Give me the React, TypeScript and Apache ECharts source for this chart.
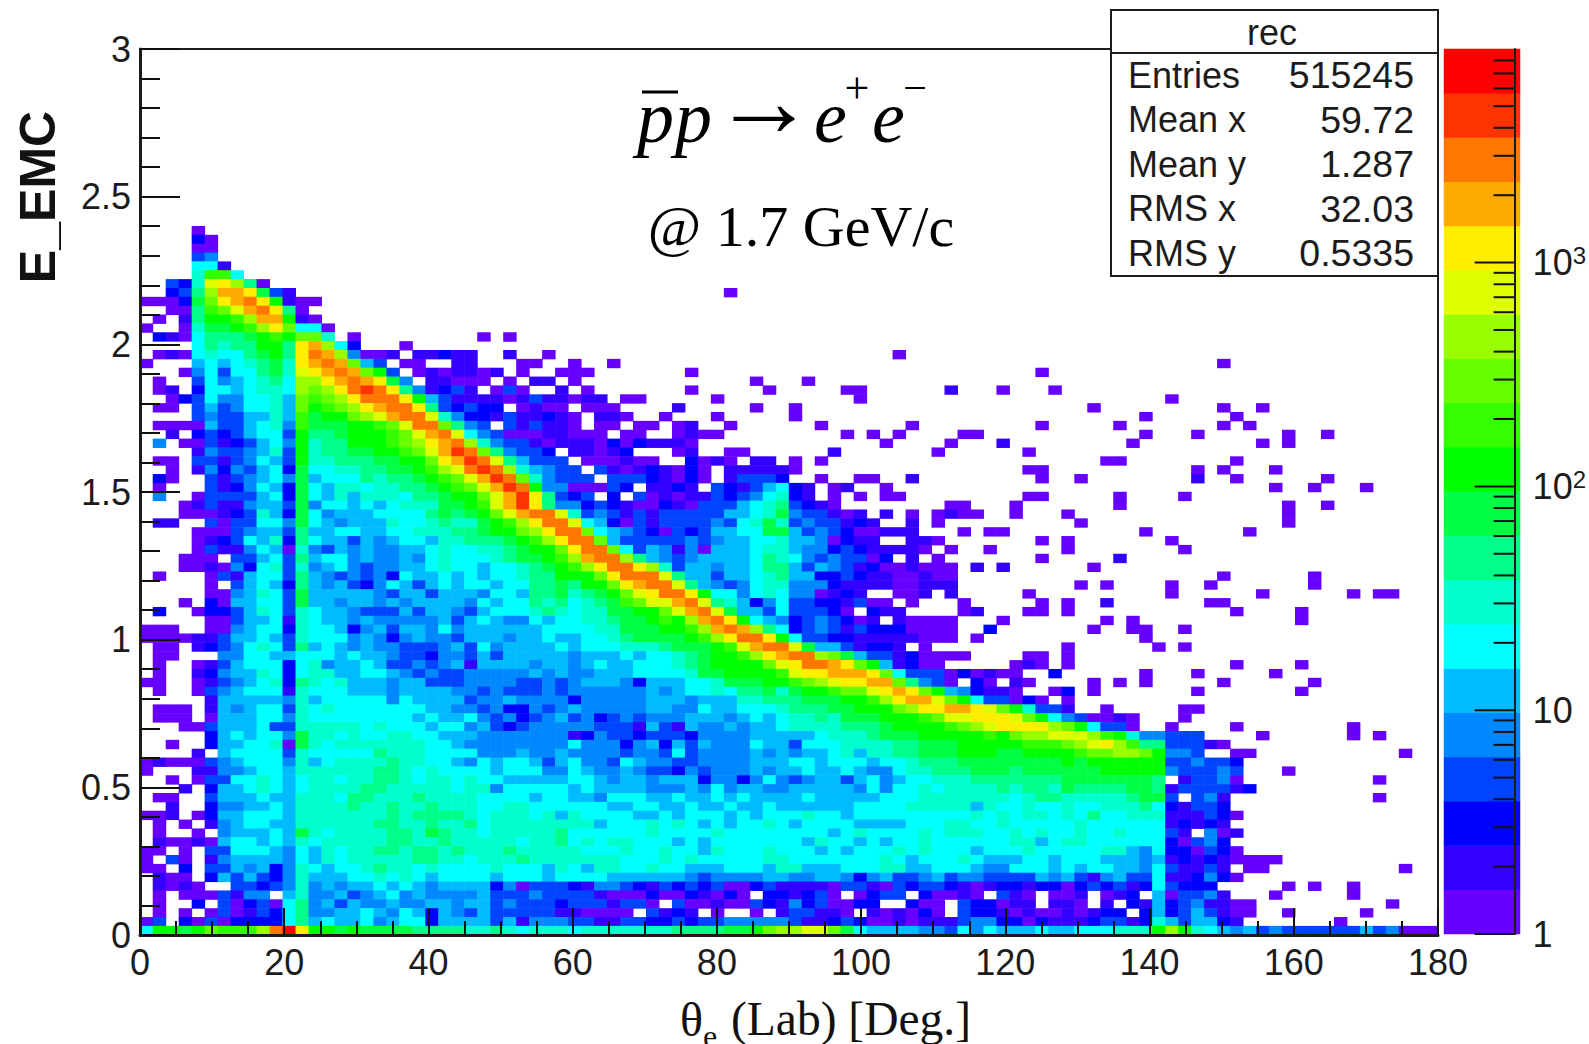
import React, { useEffect, useRef } from "react";
import * as echarts from "echarts";

const LEVEL_CHARS = "0123456789abcdefghij";
const palette = ["#6600ff","#3300ff","#0000ff","#0044ff","#0088ff","#00bbff","#00ffff","#00ffcc","#00ff88","#00ff44","#00ff00","#33ff00","#66ff00","#99ff00","#ddff00","#ffee00","#ffaa00","#ff7700","#ff3300","#ff0000"];
const colorbarTicks = [1,2,3,4,5,6,7,8,9,10,20,30,40,50,60,70,80,90,100,200,300,400,500,600,700,800,900,1000,2000,3000,4000,5000,6000,7000,8000];

// one string per E_EMC bin, top (row 79) to bottom (row 0); one character per theta bin, "." = empty
const rowsFromTop = [
"....0",
"....20",
"....00",
"....34",
"....661",
"....7bb6",
"..327efd80",
"..238dggf9 31",
"00029cfghf a100",
"..008bcegh f80",
".0.18aabdg ga10",
"0..0799abd fc660",
".21068889a bacc7.0... ......0.0.",
"....68788a a8fgd62... 0",
".010676689 a8fhgd4001 .11211..1. .0........ .......... ........0.",
"0...565678 97fghgc53. 00..11...0 0..0..0...",
"...0463668 97efghgca3 .0101101.0 ..000..... ..0.......",
".0..364567 86ddfghgf9 4.11000.0. 11.0...... .......0.. .0........",
".01.266567 76dcdfhihf 841231.030 ..1.0..... ..0.....0. ....00.... ..1...0...",
"..02364466 75cbcdfhhh fa53111101 311011.00. ....0..... .....0....",
".00.353466 75cabcdfgh hf832322.0 100.000... .1.....0.. 0.........",
"....343355 75b9aacdeg hhe7422131 1210.110.. 0...0..... 0.........",
".000053356 74b999aabc ehhc843.31 3110.00.00 .01..0.... ..0......0",
"..1.232356 63a889aaab ceghe64300 011000.00. .0100..... ....0.0.0. ...00.....",
".4.0031235 64a788aaab cdfghd7433 1011102021 110....... .......0.. ..0...1...",
"....143345 73a78899aa bcegihc843 32.11012.. .01..00... ...1...... .0........",
".00.331346 53a7788899 aacfgihe85 333.000100 ..2010.11. 0.0.......",
"..0.142435 6296677889 9abdehihd7 5433.31012 1020.11111 0.........",
".20..31345 6495666878 89abcegihc 74333.3332 1020.13332 ..0..00..1",
".0...31246 5296577677 889abcegih a4400032.1 121.321356 21.01..0..",
".4..033335 6296575777 6889aacegi f8323.2.30 1011323467 21.0.0.00.",
"...0131145 5394665656 77799abegi f844232100 2103335678 3210...... ..00...0..",
"...0001237 5296455566 668989aceg hhe7343131 3333355679 433101.1.0 .0100..0..",
".11..30336 6496545557 6678779abd fhhe652031 3333436797 3433121..1 .0........",
"....000345 5385566556 6777889aac dfhhc65432 0323556699 5343200111 ...0.00...",
"....012365 7286553545 665778889a bdfhhc5333 3343455667 5540211..1 10........",
"....031146 5074354544 5567667789 aacfhhc635 4140555677 5442321111 0.0..0....",
"...000.335 6385664544 5467666789 9abdghhd85 4345555687 64343302.1 .0........",
"...0010426 7374564344 5567665667 89abdfhhfd 7355455688 5354312001 000.1.1...",
".0...03156 6385434342 6556565667 88aaacfhhh e855355678 5522321100 100.......",
".....0.356 5285453246 5356566566 8898aacfgh he85434677 4442111100 111.......",
".....00457 6395555543 5535554665 889789acef hhfa664676 440121..00 1.1.......",
"...0.20556 6395545545 4555546566 8786789bce eghe875246 33221300.0 ...0......",
".2..022357 6376554333 5355435666 78767799aa ceghe95536 33320.211. ...01.....",
".....00355 6176554544 4445356544 656677899a badghfa654 2343201.10 000...0...",
"000..00456 6276652453 5546455555 5666677999 aabdghgd86 2343132220 000..2....",
"0000113556 5376664542 4544355545 5655667899 99abdfhhfa 6332211111 000.0.....",
".00.123467 6385654544 3334536455 5565666777 8999abeghh e95531221. 0.........",
".00...4466 5566656554 3324435355 5554555656 6789aabdfg hhdc953312 0000......",
".0..013566 6267455653 3434515555 4554565566 6789aaaace fhhgfca512 00........",
".0..124557 6267755665 4343344444 5454455566 66799aaaab effgggfc63 330201....",
"00..013456 7287675554 5533344443 3434555425 55667999aa bcdeffggc8 430.20....",
".0..034566 6176665554 5555443433 3434444445 4566768897 9aabccefgf ca542110..",
".....15555 5475666664 6555534454 4442444445 5545557788 8999aabdfg geca633020 .0........",
".000.15456 6376766666 6655443422 4345444445 5446556667 88899aaacd ffggfeca73 31..0..... 00........",
".000.05556 6476666666 6565564342 3453423434 4455545656 7787999aaa bceefffeca 6430010... 0.........",
"...0035556 3377777676 6656645323 4444433315 3154454556 77778889aa aabcdeffff dca6330..0 ....0..... ...0......",
".....25656 6497767667 7665554444 4441243323 3324444555 5567778999 aaaaabacdd eeedba7443 33....0... ...0.0....",
"..0..25566 7097677777 7766544444 4446444245 2535444655 3666777788 999aaaaabb bcdefdb883 3310......",
"....1.5666 6376666687 7766664445 4454444344 3634444545 4556757788 999aaa99aa aabccddca4 43..00.... .......0..",
"0100034566 6475677778 7766546566 5356443654 4334444555 6656665667 8889999999 9a9aaaaaa3 34332.....",
"0...114456 6577777788 7676666566 6446544543 3243444545 5655654467 7888999899 9999aaaaa4 33343...0.",
"..0.033667 6567767788 7677676655 5556654554 5552442464 3455356456 6777888888 899999998. 13340..... .....0....",
"...1.25567 6567777887 7777677466 6665655554 4454645544 5555546466 7677778788 7988889981 333312....",
".00..35556 5577768877 7877776666 5665546665 5655656555 5655555666 7777777678 8777778993 .341...... .....0....",
"..1..24455 6577778778 7787776677 6666665566 5565565565 5555566667 7777576676 6766777862 1332......",
"001.025566 6577777778 7888876777 6757666655 6566656566 6766566666 6666767677 6768667771 11320.....",
".0.0.14566 5577777788 7787786777 7777756667 6765656676 5666655556 6677667666 6676666661 2121......",
".0..0.4555 6597677778 8798776777 7786666667 6666766666 6665676666 7677766767 6676676663 1.401.....",
".100105665 6576777778 8778777776 7786767766 6565666666 6576656566 7666666775 6776666662 0342......",
"00.0.33666 5465767788 7887877787 7777666766 7665766676 6656566676 7666566676 6666775462 20320.....",
"0.30.14555 5465767777 7887767778 7777777666 7676666677 6666666765 6667655566 5666555451 21210000..",
"00.2.33545 2476566787 7676666766 6576577667 6655566657 7555666775 5666544666 5656655463 1131.00... .......0..",
".100.25353 2475556676 7656666566 6566665555 5543444455 4455424533 4534433335 4531453361 12420.....",
".1010..332 3474545565 6545555240 3332144321 3232300231 1110331032 3321012212 2023231263 222.....0. 0..0......",
".0.0003144 .574453456 4544445333 4333310002 0021020.22 1230.0233. 20010.310. 001.012.50 3341...0.. ...0......",
".0..2.3023 0684535445 4455455343 3323331330 .300100321 4230022..2 00.322011. 110.1.2152 341100.... ......0...",
".0.0.03013 2684455654 6525435333 33110000.3 121.0..0.1 33110.1010 20.3221010 010122.252 353100..0. ....0.....",
"03.2030222 2685655645 6625555351 4443311332 2323344444 3112320010 1113442202 1112331275 35521..... ..0.......",
"6aa9acbbbd hjfaa9a999 9888877876 7776777777 7888899acd deec965555 4436465556 55666777ad a765453433 3333534000",
];
const TOP_ROW = 79;

// isolated low-count cells in the upper right: [theta bin, energy bin, level]
const strayCells = [
[45,72,0],[83,64,0],[69,63,0],[66,61,0],[70,61,0],[79,60,0],[73,59,0],[83,59,0],[86,59,0],[84,58,0],[77,58,0],[69,57,0],[75,57,0],[83,57,0],[85,57,0],[77,56,0],[81,56,0],[88,56,0],[88,55,0],[91,56,0],[76,55,0],[86,55,0],[66,55,1],[68,54,0],[74,53,0],[75,53,0],[84,53,0],[68,52,0],[69,52,0],[69,51,0],[72,51,0],[81,52,0],[81,51,1],[83,52,0],[84,51,0],[87,52,0],[91,51,0],[87,50,0],[90,50,0],[94,50,0],[68,49,0],[69,49,0],[75,49,0],[75,48,0],[80,49,0],[67,48,0],[67,47,0],[88,48,0],[88,47,0],[88,46,0],[91,48,0],[71,47,0],[72,46,0],[66,45,0],[77,45,0],[85,45,0],[69,44,0],[71,44,0],[71,43,0],[79,44,0],[80,43,0],[69,42,0],[75,42,1],[66,41,1],[73,41,0],[83,40,0],[90,40,0],[90,39,0],[72,39,0],[74,39,0],[79,39,0],[79,38,0],[82,39,0],[68,38,0],[86,38,0],[93,38,0],[95,38,0],[96,38,0],[74,37,1],[69,37,0],[82,37,0],[83,37,0],[71,37,0],[71,36,0],[68,36,0],[69,36,0],[84,36,0],[89,36,0],[89,35,0],[66,35,0],[74,35,0],[76,35,0],[73,34,0],[76,34,0],[77,34,0],[80,34,0],[77,33,0],[78,32,0],[80,32,0],[71,32,0],[71,31,0],[71,30,0],[68,31,0],[69,31,0],[67,30,0],[68,30,1],[69,30,0],[84,30,0],[89,30,0],[66,29,0],[67,29,0],[70,29,2],[77,29,0],[81,29,0],[87,29,0],[67,28,1],[68,28,0],[73,28,0],[75,28,0],[77,28,0],[83,28,0],[90,28,0],[70,27,0],[71,27,2],[73,27,0],[81,27,0],[89,27,0],
];

const statNames = ["Entries", "Mean x", "Mean y", "RMS x", "RMS y"];
const statValues = ["515245", "59.72", "1.287", "32.03", "0.5335"];

const thetaBins = Array.from({ length: 100 }, (_, i) => String(i));
const energyBins = Array.from({ length: 100 }, (_, i) => String(i));
const levelBins = palette.map((_, i) => String(i));

function buildCells() {
  const cells = new Map<string, number[]>();
  rowsFromTop.forEach((raw, r) => {
    const row = raw.replace(/ /g, "");
    const j = TOP_ROW - r;
    for (let i = 0; i < row.length && i < 100; i++) {
      const lev = LEVEL_CHARS.indexOf(row[i]);
      if (lev >= 0) cells.set(i + "," + j, [i, j, lev]);
    }
  });
  strayCells.forEach(([i, j, lev]) => {
    if (!cells.has(i + "," + j)) cells.set(i + "," + j, [i, j, lev]);
  });
  return Array.from(cells.values());
}

const SANS = "Liberation Sans";
const SERIF = "Liberation Serif";
const INK = "#1c1c1c";

function App() {
  const ref = useRef<HTMLDivElement>(null);
  useEffect(() => {
    const chart = echarts.init(ref.current!, null, { renderer: "svg" });
    const plot = { left: 140, top: 49, width: 1298, height: 886 };
    const bar = { left: 1444, top: 49, width: 76, height: 885 };
    const stats: any[] = [];
    statNames.forEach((n, i) => {
      const y = 75 + i * 44.5;
      stats.push({ type: "text", z: 101, x: 1128, y, style: { text: n, font: `36px "${SANS}"`, fill: INK, textAlign: "left", textVerticalAlign: "middle" } });
      stats.push({ type: "text", z: 101, x: 1414, y, style: { text: statValues[i], font: `37.5px "${SANS}"`, fill: INK, textAlign: "right", textVerticalAlign: "middle" } });
    });
    const serifItalic = `italic 74px "${SERIF}"`;
    chart.setOption({
      animation: false,
      backgroundColor: "#fff",
      grid: [
        { ...plot, show: false },
        { ...plot, show: true, borderColor: INK, borderWidth: 2, backgroundColor: "transparent" },
        { ...bar, show: false },
        { ...bar, show: false },
      ],
      xAxis: [
        { gridIndex: 0, type: "category", data: thetaBins, show: false },
        {
          gridIndex: 1, type: "value", min: 0, max: 180, interval: 20, z: 10,
          axisLine: { show: true, lineStyle: { color: INK, width: 3 } },
          axisTick: { show: true, inside: true, length: 27, lineStyle: { color: "#111", width: 2 } },
          minorTick: { show: true, splitNumber: 4, length: 14, lineStyle: { color: "#111", width: 2 } },
          splitLine: { show: false },
          axisLabel: { fontFamily: SANS, fontSize: 36, color: INK, margin: 9 },
        },
        { gridIndex: 2, type: "category", data: ["z"], show: false },
        { gridIndex: 3, type: "value", min: 0, max: 1, show: false },
      ],
      yAxis: [
        { gridIndex: 0, type: "category", data: energyBins, show: false },
        {
          gridIndex: 1, type: "value", min: 0, max: 3, interval: 0.5, z: 10,
          axisLine: { show: true, lineStyle: { color: INK, width: 3 } },
          axisTick: { show: true, inside: true, length: 40, lineStyle: { color: "#111", width: 2 } },
          minorTick: { show: true, splitNumber: 5, length: 20, lineStyle: { color: "#111", width: 2 } },
          splitLine: { show: false },
          axisLabel: { fontFamily: SANS, fontSize: 36, color: INK, margin: 9 },
        },
        { gridIndex: 2, type: "category", data: levelBins, show: false },
        {
          gridIndex: 3, type: "log", logBase: 10, min: 1, max: 9000, position: "right", z: 10,
          axisLine: { show: true, onZero: false, lineStyle: { color: INK, width: 2 } },
          axisTick: { show: false },
          splitLine: { show: false },
          axisLabel: {
            margin: 18, fontFamily: SANS, fontSize: 36, color: INK,
            formatter: (v: number) => {
              const d = Math.round(Math.log10(v));
              if (Math.abs(Math.log10(v) - d) > 1e-6) return "";
              if (d === 0) return "1";
              if (d === 1) return "10";
              return `10{s|${d}}`;
            },
            rich: { s: { fontFamily: SANS, fontSize: 24, color: INK, verticalAlign: "bottom", padding: [0, 0, 14, 0] } },
          },
        },
      ],
      visualMap: {
        show: false, type: "piecewise", dimension: 2, seriesIndex: [0, 1],
        pieces: palette.map((color, i) => ({ value: i, color })),
      },
      series: [
        { type: "heatmap", xAxisIndex: 0, yAxisIndex: 0, data: buildCells(), progressive: 0, silent: true, emphasis: { disabled: true }, itemStyle: { borderWidth: 0 } },
        { type: "heatmap", xAxisIndex: 2, yAxisIndex: 2, data: levelBins.map((_, i) => [0, i, i]), progressive: 0, silent: true, emphasis: { disabled: true } },
        {
          type: "custom", xAxisIndex: 3, yAxisIndex: 3, z: 10, silent: true,
          data: colorbarTicks.map((v) => [1, v]),
          renderItem: (_p: any, api: any) => {
            const v = api.value(1);
            const pt = api.coord([1, v]);
            const major = Math.abs(Math.log10(v) - Math.round(Math.log10(v))) < 1e-6;
            return { type: "line", shape: { x1: pt[0] - (major ? 40 : 21), y1: pt[1], x2: pt[0], y2: pt[1] }, style: { stroke: "#111", lineWidth: 2 } };
          },
        },
      ],
      graphic: [
        { type: "rect", z: 100, shape: { x: 1111, y: 10, width: 327, height: 266 }, style: { fill: "#fff", stroke: INK, lineWidth: 2 } },
        { type: "line", z: 101, shape: { x1: 1111, y1: 53, x2: 1438, y2: 53 }, style: { stroke: INK, lineWidth: 2 } },
        { type: "text", z: 101, x: 1272, y: 32, style: { text: "rec", font: `36px "${SANS}"`, fill: INK, textAlign: "center", textVerticalAlign: "middle" } },
        ...stats,
        { type: "text", z: 101, x: 38, y: 197, rotation: Math.PI / 2, style: { text: "E_EMC", font: `bold 50px "${SANS}"`, fill: "#111", textAlign: "center", textVerticalAlign: "middle" } },
        { type: "text", z: 101, x: 680, y: 1019, style: { text: "θ", font: `48px "${SERIF}"`, fill: "#111", textVerticalAlign: "middle" } },
        { type: "text", z: 101, x: 703, y: 1036, style: { text: "e", font: `32px "${SERIF}"`, fill: "#111", textVerticalAlign: "middle" } },
        { type: "text", z: 101, x: 731, y: 1019, style: { text: "(Lab) [Deg.]", font: `47.5px "${SERIF}"`, fill: "#111", textVerticalAlign: "middle" } },
        { type: "text", z: 101, x: 637, y: 117, style: { text: "p", font: serifItalic, fill: "#000", textVerticalAlign: "middle" } },
        { type: "text", z: 101, x: 675, y: 117, style: { text: "p", font: serifItalic, fill: "#000", textVerticalAlign: "middle" } },
        { type: "line", z: 101, shape: { x1: 642, y1: 92, x2: 678, y2: 92 }, style: { stroke: "#000", lineWidth: 3 } },
        { type: "text", z: 101, x: 764, y: 101, style: { text: "→", font: `103px "${SERIF}"`, fill: "#000", textAlign: "center", textVerticalAlign: "middle" } },
        { type: "text", z: 101, x: 814, y: 117, style: { text: "e", font: serifItalic, fill: "#000", textVerticalAlign: "middle" } },
        { type: "text", z: 101, x: 857, y: 88, style: { text: "+", font: `44px "${SERIF}"`, fill: "#000", textAlign: "center", textVerticalAlign: "middle" } },
        { type: "text", z: 101, x: 872, y: 117, style: { text: "e", font: serifItalic, fill: "#000", textVerticalAlign: "middle" } },
        { type: "text", z: 101, x: 915, y: 88, style: { text: "−", font: `42px "${SERIF}"`, fill: "#000", textAlign: "center", textVerticalAlign: "middle" } },
        { type: "text", z: 101, x: 801, y: 226, style: { text: "@ 1.7 GeV/c", font: `58px "${SERIF}"`, fill: "#000", textAlign: "center", textVerticalAlign: "middle" } },
      ],
    });
    return () => chart.dispose();
  }, []);
  return <div ref={ref} style={{ position: "fixed", left: 0, top: 0, width: 1589, height: 1044 }} />;
}

export default App;
